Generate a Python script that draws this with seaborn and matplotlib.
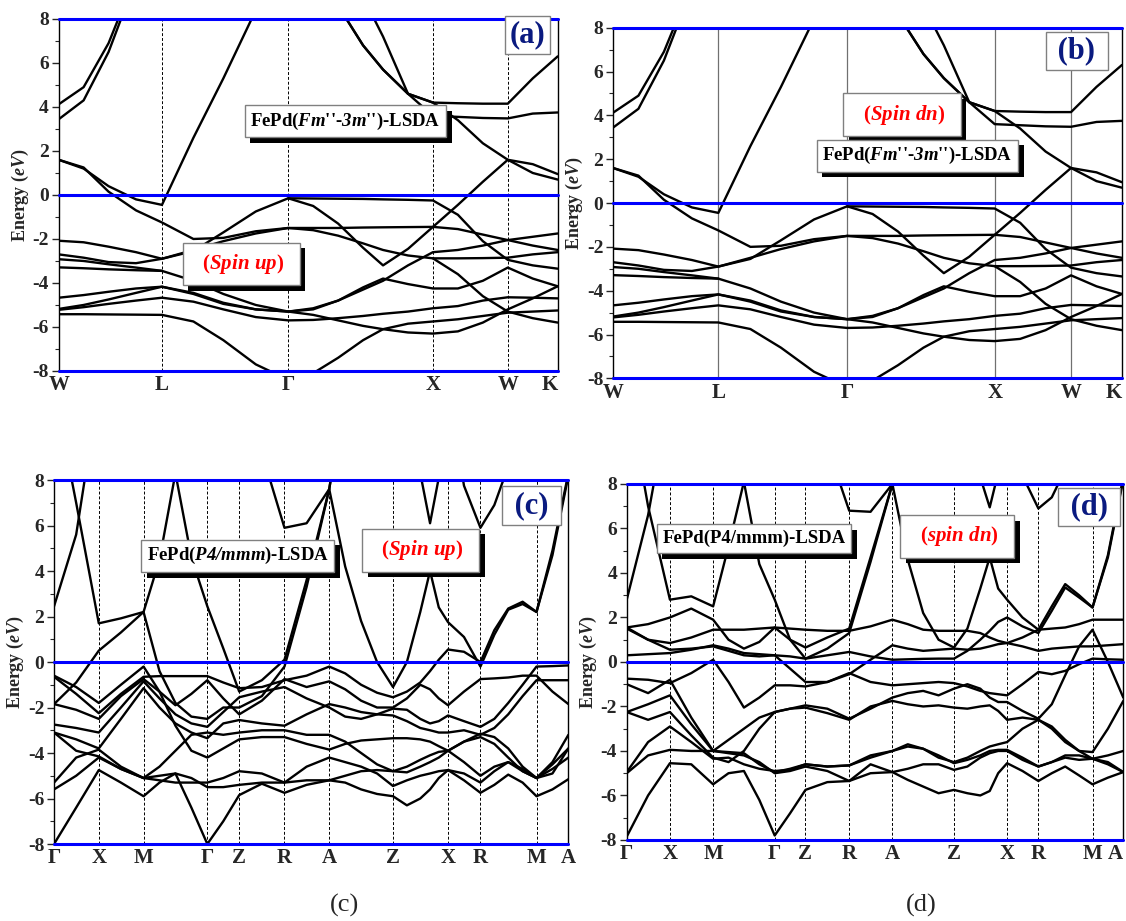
import numpy as np
import pandas as pd
import matplotlib
matplotlib.use("Agg")
import matplotlib.pyplot as plt
import seaborn as sns
from matplotlib import patheffects as pe
from matplotlib.ticker import MultipleLocator

N = None

# ---------------- panels (a)/(b): FePd (Fm-3m), path W-L-G-X-W-K ----------------
K_FCC = [0.0, 0.05, 0.10, 0.155, 0.207, 0.27, 0.33, 0.395, 0.46, 0.51, 0.56, 0.61,
         0.65, 0.70, 0.75, 0.80, 0.85, 0.90, 0.95, 1.0]
SYM_FCC_POS = [0.0, 0.207, 0.46, 0.75, 0.90, 1.0]
SYM_FCC_LBL = ["W", "L", "Γ", "X", "W", "K"]

FCC_B1 = [4.12, 4.9, 6.9, 10.0, 12, 12, 12, 12, 12, 10.5, 8.6, 6.8, 5.7, 4.6, 4.2, 4.17, 4.15, 4.15, 5.3, 6.3]
FCC_B2 = [3.44, 4.3, 6.5, 9.8, 12, 12, 12, 12, 12, 12, 11, 9.0, 7.2, 4.6, 3.6, 3.55, 3.5, 3.48, 3.7, 3.75]
FCC_B3 = [1.6, 1.2, 0.4, -0.2, -0.45, 2.6, 5.3, 8.4, 11, 10.5, 8.6, 6.8, 5.7, 4.6, 4.2, 3.4, 2.35, 1.6, 1.0, 0.7]
FCC_B4 = [1.6, 1.25, 0.15, -0.7, -1.25, -2.0, -1.95, -1.65, -1.5, -1.5, -1.5, -1.48, -1.47, -1.46, -1.45, -1.55, -1.8, -2.05, -2.3, -2.5]
FCC_B5 = [-2.08, -2.15, -2.35, -2.6, -2.9, -2.55, -1.7, -0.75, -0.15, -0.16, -0.17, -0.18, -0.2, -0.22, -0.25, -0.9, -2.1, -2.95, -3.2, -3.35]
FCC_B6 = [-2.7, -2.85, -3.05, -3.1, -2.9, -2.5, -2.1, -1.75, -1.5, -1.6, -1.85, -2.2, -2.5, -2.75, -2.88, -2.88, -2.87, -2.85, -2.7, -2.6]
FCC_B7 = [N, N, N, N, N, N, N, N, -0.15, -0.5, -1.3, -2.4, -3.2, -2.45, -1.45, -0.45, 0.6, 1.6, 1.4, 0.95]
FCC_B8 = [-2.92, -3.0, -3.15, -3.3, -3.45, -3.9, -4.5, -5.0, -5.3, -5.15, -4.8, -4.3, -3.9, -3.2, -2.6, -2.5, -2.3, -2.05, -1.9, -1.75]
FCC_B9 = [-3.29, -3.33, -3.38, -3.42, -3.45, N, N, N, N, N, N, N, N, N, N, N, N, N, N, N]
FCC_B10 = [-4.67, -4.55, -4.4, -4.25, -4.17, -4.45, -4.9, -5.2, -5.3, -5.2, -4.8, -4.2, -3.8, -4.05, -4.25, -4.25, -3.9, -3.3, -3.8, -4.15]
FCC_B11 = [-5.18, -5.0, -4.75, -4.45, -4.17, -4.5, -4.95, -5.2, -5.3, -5.45, -5.7, -5.95, -6.1, -6.25, -6.3, -6.2, -5.8, -5.2, -4.7, -4.15]
FCC_B12 = [-5.22, -5.1, -4.95, -4.8, -4.67, -4.85, -5.2, -5.55, -5.7, -5.68, -5.6, -5.5, -5.4, -5.3, -5.15, -5.05, -4.8, -4.65, -4.67, -4.7]
FCC_B13 = [-5.42, -5.42, -5.43, -5.44, -5.45, -5.75, -6.6, -7.7, -8.4, -8.1, -7.4, -6.6, -6.1, -5.85, -5.75, -5.65, -5.5, -5.35, -5.3, -5.25]
FCC_B14 = [N, N, N, N, N, N, N, N, N, N, N, N, N, N, -2.88, -3.6, -4.6, -5.3, -5.6, -5.8]
BANDS_FCC = [FCC_B1, FCC_B2, FCC_B3, FCC_B4, FCC_B5, FCC_B6, FCC_B7, FCC_B8, FCC_B9,
             FCC_B10, FCC_B11, FCC_B12, FCC_B13, FCC_B14]

# ---------------- panels (c)/(d): FePd (P4/mmm), path G-X-M-G-Z-R-A-Z-X-R-M-A ----------------
K_TET = [0.0, 0.043, 0.087, 0.13, 0.174, 0.205, 0.236, 0.267, 0.298, 0.329, 0.36, 0.404,
         0.448, 0.491, 0.535, 0.566, 0.597, 0.628, 0.659, 0.686, 0.712, 0.731, 0.748, 0.766,
         0.797, 0.829, 0.856, 0.883, 0.911, 0.938, 0.969, 1.0]
SYM_TET_POS = [0.0, 0.087, 0.174, 0.298, 0.36, 0.448, 0.535, 0.659, 0.766, 0.829, 0.938, 1.0]
SYM_TET_LBL = ["Γ", "X", "M", "Γ", "Z", "R", "A", "Z", "X", "R", "M", "A"]

# spin up (c)
UP_A = [2.45, 5.6, 12, N, N, 12, 8.3, 4.6, 2.45, 0.6, -1.3, -0.8, 0.1, 3.6, 7.6, 4.2, 1.8, 0.0, -1.1, 0.0, 2.2, 4.0, 2.4, 1.75, 1.1, -0.2, 1.2, 2.3, 2.55, 2.2, 4.7, 8.2]
UP_B = [12.0, 7.0, 1.7, 1.92, 2.2, 4.5, 8.3, 12, N, N, 12, 9.2, 5.9, 6.1, 7.6, 12, N, N, N, 12, 8.3, 6.1, 8.1, 12, 7.75, 5.9, 6.9, 8.6, 12, N, N, N]
UP_C = [-1.85, -0.9, 0.5, 1.3, 2.2, -0.4, -1.8, -2.4, -2.5, -2.0, -2.0, -1.5, -0.2, 3.3, 7.6, 12, N, N, N, N, N, N, N, N, N, N, N, N, N, N, N, N]
UP_T1 = [-0.6, -1.1, -1.8, -1.0, -0.2, -1.3, -2.8, -3.9, -4.2, -3.8, -3.4, -3.3, -3.3, -3.6, -3.85, -3.6, -3.45, -3.4, -3.35, -3.35, -3.4, -3.5, -3.7, -3.9, -3.5, -3.3, -3.6, -4.2, -4.8, -5.1, -4.5, -3.8]
UP_T2 = [-0.65, -1.4, -2.25, -1.4, -0.65, -0.62, -0.62, -0.62, -0.62, -0.9, -1.15, -1.1, -0.8, -0.6, -0.2, -0.5, -1.0, -1.35, -1.55, -1.3, -0.9, -0.4, 0.1, 0.55, 0.45, 0.0, 1.4, 2.35, 2.65, 2.2, 4.9, 8.3]
UP_T3 = [-1.85, -2.1, -2.5, -1.5, -0.75, -1.3, -1.9, -1.4, -0.8, -1.6, -2.3, -1.7, -0.75, -1.1, -0.85, -1.2, -1.7, -2.0, -2.0, -1.6, -1.0, -1.2, -1.6, -1.9, -1.3, -0.75, -0.72, -0.68, -0.6, -0.6, -1.3, -1.85]
UP_T4 = [-2.75, -2.9, -3.1, -2.0, -0.85, -1.6, -2.3, -2.7, -2.85, -2.2, -1.55, -1.3, -1.1, -1.6, -2.0, -2.4, -2.5, -2.3, -2.05, -2.1, -2.5, -2.7, -2.6, -2.35, -2.6, -2.85, -2.5, -1.8, -1.0, -0.2, -0.18, -0.15]
UP_T5 = [-3.1, -3.4, -3.8, -2.5, -1.15, -2.0, -2.7, -3.1, -3.35, -2.7, -2.55, -2.7, -2.8, -2.3, -1.85, -2.0, -2.2, -2.3, -2.35, -2.6, -2.9, -3.0, -3.1, -3.1, -3.0, -3.2, -2.9, -2.3, -1.5, -0.8, -0.8, -0.8]
UP_T6 = [-3.1, -3.9, -4.15, -4.7, -5.1, -4.6, -3.9, -3.2, -3.1, -3.2, -3.1, -3.0, -3.0, -3.2, -3.2, -3.5, -4.0, -4.5, -4.8, -4.85, -4.6, -4.4, -4.2, -3.9, -3.5, -3.15, -3.3, -3.8, -4.6, -5.1, -4.4, -3.2]
UP_T7 = [-5.3, -4.2, -3.85, -4.6, -5.1, -5.2, -5.3, -5.3, -5.3, -5.1, -4.8, -4.9, -5.3, -4.6, -4.2, -4.4, -4.6, -4.9, -5.45, -5.2, -5.0, -4.9, -4.8, -4.75, -4.9, -5.3, -4.8, -4.4, -4.8, -5.1, -4.7, -4.2]
UP_T8 = [-5.6, -5.0, -4.2, -4.7, -5.1, -5.0, -4.9, -5.1, -5.5, -5.5, -5.4, -5.3, -5.3, -5.2, -5.2, -5.0, -4.8, -4.75, -4.8, -4.6, -4.3, -4.1, -3.95, -3.9, -4.4, -5.0, -4.6, -4.4, -4.7, -5.1, -4.9, -3.8]
UP_L = [-8.0, -6.4, -4.75, -5.3, -5.9, -5.3, -4.9, -6.4, -8.0, -7.0, -5.85, -5.35, -5.75, -5.4, -5.2, -5.3, -5.6, -5.8, -5.9, -6.3, -6.0, -5.6, -5.1, -4.75, -5.2, -5.75, -5.4, -4.95, -5.3, -5.9, -5.6, -5.15]
BANDS_UP = [UP_A, UP_B, UP_C, UP_T1, UP_T2, UP_T3, UP_T4, UP_T5, UP_T6, UP_T7, UP_T8, UP_L]

# spin dn (d)
DN_A = [2.8, 6.6, 12, N, N, 12, 8.1, 4.4, 2.8, 1.0, 0.15, 0.6, 1.3, 4.5, 8.0, 4.6, 2.2, 1.0, 0.65, 1.5, 3.3, 4.7, 3.3, 2.8, 2.0, 1.45, 2.5, 3.5, 3.0, 2.45, 4.7, 8.2]
DN_B = [12.4, 7.0, 2.8, 2.95, 2.5, 5.2, 8.1, 12, N, N, 12, 9.7, 6.8, 6.75, 8.0, 12, N, N, N, 12, 8.3, 6.95, 8.5, 12, 8.37, 6.9, 7.4, 8.65, 12, N, N, N]
DN_C = [1.55, 1.7, 2.0, 2.4, 1.9, 1.0, 0.6, 0.9, 1.55, 1.0, 0.65, 1.1, 1.5, 4.7, 8.0, 12, N, N, N, N, N, N, N, N, N, N, N, N, N, N, N, N]
DN_T1 = [1.5, 1.0, 0.85, 1.1, 1.45, 1.45, 1.45, 1.5, 1.55, 1.5, 1.45, 1.4, 1.4, 1.6, 1.9, 1.7, 1.45, 1.4, 1.4, 1.4, 1.3, 1.1, 0.95, 0.85, 1.1, 1.45, 1.5, 1.55, 1.7, 1.9, 1.9, 1.9]
DN_T2 = [1.55, 1.0, 0.55, 0.6, 0.7, 0.5, 0.3, 0.25, 0.3, -0.3, -0.9, -0.9, -0.55, 0.1, 0.75, 0.6, 0.5, 0.55, 0.6, 0.55, 0.6, 0.7, 0.8, 0.85, 0.7, 0.5, 0.6, 0.65, 0.7, 0.7, 0.75, 0.8]
DN_T3 = [0.3, 0.35, 0.4, 0.55, 0.75, 0.6, 0.4, 0.35, 0.3, 0.25, 0.15, 0.3, 0.45, 0.25, 0.1, 0.12, 0.14, 0.15, 0.15, 0.5, 1.0, 1.4, 1.8, 2.0, 1.6, 1.3, 2.3, 3.35, 2.9, 2.45, 4.8, 8.3]
DN_T4 = [-0.75, -0.8, -0.95, -0.5, 0.1, -0.9, -2.05, -1.6, -1.05, -1.05, -1.1, -0.9, -0.5, -0.9, -1.05, -1.0, -0.95, -0.9, -0.95, -1.1, -1.3, -1.4, -1.45, -1.5, -1.0, -0.45, -0.55, -0.4, -0.1, 0.15, 0.12, 0.1]
DN_T5 = [-1.0, -1.4, -0.8, -2.5, -4.0, -4.05, -4.1, -4.6, -4.95, -4.8, -4.6, -4.7, -4.65, -4.3, -4.0, -3.8, -3.9, -4.2, -4.55, -4.4, -4.2, -4.0, -3.95, -3.95, -4.3, -4.7, -4.5, -4.2, -4.2, -4.35, -4.5, -4.95]
DN_T6 = [-2.25, -1.9, -1.5, -2.8, -4.0, -3.5, -3.0, -2.5, -2.25, -2.1, -1.95, -2.1, -2.55, -2.1, -1.6, -1.4, -1.3, -1.5, -1.2, -1.0, -1.2, -1.6, -1.8, -1.8, -2.2, -2.55, -1.9, -0.6, 0.7, 1.45, 0.0, -1.6]
DN_T7 = [-2.25, -2.6, -2.25, -3.3, -4.3, -4.5, -4.0, -3.0, -2.25, -2.1, -2.05, -2.3, -2.6, -2.0, -1.75, -1.9, -2.0, -1.95, -2.05, -2.1, -2.0, -1.95, -2.2, -2.6, -2.5, -2.6, -3.0, -3.6, -4.0, -4.05, -3.0, -1.75]
DN_T8 = [-4.95, -3.6, -2.9, -3.6, -4.35, -4.3, -4.6, -4.8, -4.9, -4.85, -4.6, -4.7, -4.65, -4.2, -4.0, -3.7, -3.9, -4.3, -4.5, -4.3, -4.0, -3.8, -3.7, -3.6, -3.0, -2.6, -2.9, -3.5, -4.0, -4.35, -4.2, -4.0]
DN_T9 = [-5.0, -4.2, -3.95, -4.0, -4.0, -4.1, -4.2, -4.5, -5.0, -4.9, -4.7, -4.9, -5.35, -5.0, -4.95, -4.8, -4.6, -4.6, -4.85, -4.7, -4.3, -4.1, -4.0, -4.0, -4.4, -4.7, -4.5, -4.3, -4.4, -4.35, -4.6, -4.95]
DN_L = [-7.85, -6.0, -4.55, -4.6, -5.5, -5.0, -4.9, -6.2, -7.8, -6.8, -5.75, -5.4, -5.35, -4.6, -4.95, -5.3, -5.6, -5.9, -5.75, -5.9, -6.0, -5.8, -5.0, -4.55, -4.9, -5.35, -5.0, -4.7, -5.1, -5.5, -5.2, -4.95]
BANDS_DN = [DN_A, DN_B, DN_C, DN_T1, DN_T2, DN_T3, DN_T4, DN_T5, DN_T6, DN_T7, DN_T8, DN_T9, DN_L]

Y_TICKS = [-8, -6, -4, -2, 0, 2, 4, 6, 8]

# ---------------- style ----------------
sns.set_theme(style="white")
plt.rcParams["font.family"] = ["Liberation Serif", "DejaVu Serif"]
plt.rcParams["font.weight"] = "bold"
plt.rcParams["axes.labelweight"] = "bold"
plt.rcParams["mathtext.fontset"] = "custom"
plt.rcParams["mathtext.rm"] = "Liberation Serif"
plt.rcParams["mathtext.it"] = "Liberation Serif:italic"
plt.rcParams["mathtext.bf"] = "Liberation Serif:bold"
if "mathtext.bfit" in plt.rcParams:
    plt.rcParams["mathtext.bfit"] = "Liberation Serif:italic:bold"
    BFIT = r"\mathbfit"
else:
    BFIT = r"\mathit"


def band_frame(k, bands):
    rows = []
    for b, vals in enumerate(bands):
        seg = 0
        gap = True
        for kk, e in zip(k, vals):
            if e is None:
                gap = True
                continue
            if gap:
                seg += 1
                gap = False
            rows.append((kk, e, f"{b}-{seg}"))
    return pd.DataFrame(rows, columns=["k", "E", "unit"])


def draw_panel(ax, k, bands, sym_pos, sym_lbl, vstyle, last_right=True):
    df = band_frame(k, bands)
    sns.lineplot(data=df, x="k", y="E", units="unit", estimator=None, sort=False,
                 color="black", lw=1.7, ax=ax, legend=False)
    for p in sym_pos[1:-1]:
        ax.axvline(p, zorder=1, **vstyle)
    for y in (-8, 0, 8):
        ax.axhline(y, color="#0000ff", lw=2.2, zorder=6, clip_on=False)
    ax.set_xlim(0, 1)
    ax.set_ylim(-8, 8)
    ax.set_xticks(sym_pos)
    labels = ax.set_xticklabels(sym_lbl, fontsize=15, fontweight="bold")
    if last_right:
        labels[-1].set_horizontalalignment("right")
    ax.set_yticks(Y_TICKS)
    ax.set_yticklabels([str(v) for v in Y_TICKS], fontsize=14, fontweight="bold")
    ax.yaxis.set_minor_locator(MultipleLocator(1))
    ax.tick_params(axis="x", length=0, pad=3)
    ax.tick_params(axis="y", which="major", direction="out", length=5, width=1, pad=2, left=True)
    ax.tick_params(axis="y", which="minor", direction="out", length=3, width=0.8, left=True)
    ax.set_xlabel("")
    ax.set_ylabel("Energy ($" + BFIT + "{eV}$)", fontsize=13, labelpad=1)
    for s in ax.spines.values():
        s.set_color("black")
        s.set_linewidth(1.0)


def boxed(ax, x, y, s, color, size, shadow=True, pad=0.3):
    t = ax.text(x, y, s, ha="center", va="center", fontsize=size, color=color,
                fontweight="bold", zorder=10,
                bbox=dict(boxstyle=f"square,pad={pad}", fc="white", ec="#808080", lw=1.0))
    if shadow:
        t.get_bbox_patch().set_path_effects(
            [pe.SimplePatchShadow(offset=(4, -4), shadow_rgbFace="black", alpha=1.0), pe.Normal()])
    return t


fig = plt.figure(figsize=(11.26, 9.21), dpi=100)
ax_a = fig.add_axes([0.0521, 0.5972, 0.4432, 0.3822])
ax_b = fig.add_axes([0.5444, 0.5892, 0.4520, 0.3807])
ax_c = fig.add_axes([0.0480, 0.0836, 0.4568, 0.3952])
ax_d = fig.add_axes([0.5566, 0.0880, 0.4410, 0.3865])

dashed = dict(color="black", lw=0.7, ls=(0, (3, 2)))
solid_gray = dict(color="#707070", lw=0.9, ls="-")

draw_panel(ax_a, K_FCC, BANDS_FCC, SYM_FCC_POS, SYM_FCC_LBL, dashed)
draw_panel(ax_b, K_FCC, BANDS_FCC, SYM_FCC_POS, SYM_FCC_LBL, solid_gray)
draw_panel(ax_c, K_TET, BANDS_UP, SYM_TET_POS, SYM_TET_LBL, dashed, last_right=False)
draw_panel(ax_d, K_TET, BANDS_DN, SYM_TET_POS, SYM_TET_LBL, dashed)

fm = "FePd($" + BFIT + "{Fm}$''-$" + BFIT + "{3m}$'')-LSDA"
p4 = "FePd($" + BFIT + "{P4/mmm}$)-LSDA"

boxed(ax_a, 0.575, 3.35, fm, "black", 13.5)
boxed(ax_a, 0.366, -3.14, "  ($" + BFIT + r"{Spin\ up}$)  ", "red", 15, pad=0.45)
boxed(ax_a, 0.94, 7.27, "(a)", "#0a1a80", 22, shadow=False, pad=0.15)

boxed(ax_b, 0.568, 4.03, "  ($" + BFIT + r"{Spin\ dn}$)  ", "red", 15, pad=0.45)
boxed(ax_b, 0.598, 2.16, fm, "black", 13.5)
boxed(ax_b, 0.911, 6.94, " (b) ", "#0a1a80", 22, shadow=False, pad=0.15)

boxed(ax_c, 0.357, 4.67, p4, "black", 13.5)
boxed(ax_c, 0.7126, 4.91, "  ($" + BFIT + r"{Spin\ up}$)  ", "red", 15, pad=0.45)
boxed(ax_c, 0.928, 6.88, " (c) ", "#0a1a80", 22, shadow=False, pad=0.15)

boxed(ax_d, 0.256, 5.54, "FePd(P4/mmm)-LSDA", "black", 13.5)
boxed(ax_d, 0.6656, 5.64, "  ($" + BFIT + r"{spin\ dn}$)  ", "red", 15, pad=0.45)
boxed(ax_d, 0.9316, 6.96, " (d) ", "#0a1a80", 22, shadow=False, pad=0.15)

fig.text(0.306, 0.0174, "(c)", fontsize=19, fontweight="normal", ha="center", va="center")
fig.text(0.818, 0.0174, "(d)", fontsize=19, fontweight="normal", ha="center", va="center")

fig.savefig("out.png", dpi=100)
